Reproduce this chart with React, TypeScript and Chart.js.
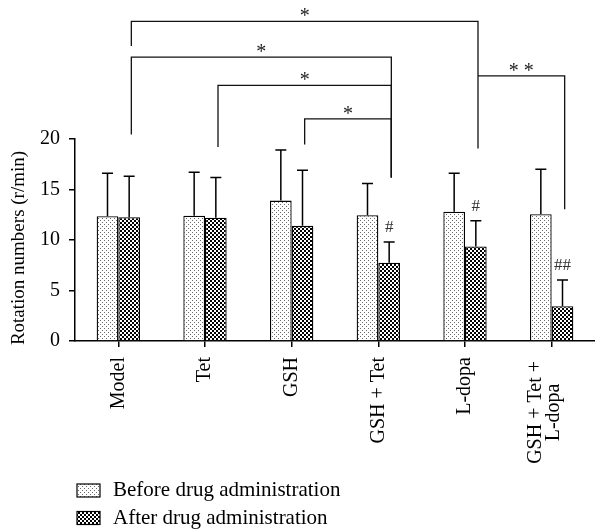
import React, { useEffect, useRef } from 'react';
import { Chart, registerables } from 'chart.js';

Chart.register(...registerables);

const categories: string[][] = [['Model'], ['Tet'], ['GSH'], ['GSH + Tet'], ['L-dopa'], ['GSH + Tet +', 'L-dopa']];
const seriesNames = ['Before drug administration', 'After drug administration'];
const beforeValues = [12.35, 12.4, 13.9, 12.45, 12.8, 12.55];
const beforeErrors = [4.25, 4.3, 5.0, 3.15, 3.8, 4.45];
const afterValues = [12.25, 12.2, 11.4, 7.75, 9.35, 3.45];
const afterErrors = [4.05, 4.0, 5.5, 2.05, 2.55, 2.6];
const afterMarks = ['', '', '', '#', '#', '##'];
const yTicks = [0, 5, 10, 15, 20];
const yTitle = 'Rotation numbers (r/min)';

// significance brackets (category indices and heights in data units)
const bracketFrom = [0, 0, 1, 2, 4];
const bracketTo = [4, 3, 3, 3, 5];
const bracketLevel = [31.65, 28.1, 25.3, 22.0, 26.25];
const bracketLeftEnd = [29.2, 20.45, 19.2, 19.45, 26.25];
const bracketRightEnd = [19.05, 16.2, 16.2, 16.2, 13.05];
const bracketLabels = ['*', '*', '*', '*', '* *'];

const FONT = '"Liberation Serif", "Times New Roman", serif';

function makeBeforePattern(): CanvasPattern | string {
  const c = document.createElement('canvas');
  c.width = 4; c.height = 4;
  const g = c.getContext('2d');
  if (!g) return '#ddd';
  g.fillStyle = '#fff'; g.fillRect(0, 0, 4, 4);
  g.fillStyle = '#6a6a6a';
  g.fillRect(0, 0, 1, 1); g.fillRect(2, 2, 1, 1);
  return g.createPattern(c, 'repeat') || '#ddd';
}

function makeAfterPattern(): CanvasPattern | string {
  const c = document.createElement('canvas');
  c.width = 4; c.height = 4;
  const g = c.getContext('2d');
  if (!g) return '#333';
  g.fillStyle = '#000'; g.fillRect(0, 0, 4, 4);
  g.fillStyle = '#fff';
  g.fillRect(0, 0, 2, 2); g.fillRect(2, 2, 2, 2);
  return g.createPattern(c, 'repeat') || '#333';
}

export default function App() {
  const ref = useRef<HTMLCanvasElement | null>(null);

  useEffect(() => {
    if (!ref.current) return;
    const beforeFill = makeBeforePattern();
    const afterFill = makeAfterPattern();
    const errs = [beforeErrors, afterErrors];

    const errorBarPlugin = {
      id: 'errorBars',
      afterDatasetsDraw(chart: any) {
        const ctx = chart.ctx;
        const y = chart.scales.y;
        chart.data.datasets.forEach((ds: any, di: number) => {
          const meta = chart.getDatasetMeta(di);
          meta.data.forEach((bar: any, i: number) => {
            const v = ds.data[i];
            const top = y.getPixelForValue(v + errs[di][i]);
            ctx.save();
            ctx.strokeStyle = '#000';
            ctx.lineWidth = 1.5;
            ctx.beginPath();
            ctx.moveTo(bar.x, bar.y);
            ctx.lineTo(bar.x, top);
            ctx.moveTo(bar.x - 5.5, top);
            ctx.lineTo(bar.x + 5.5, top);
            ctx.stroke();
            if (di === 1 && afterMarks[i]) {
              ctx.fillStyle = '#333';
              ctx.font = `17px ${FONT}`;
              ctx.textAlign = 'center';
              ctx.textBaseline = 'middle';
              ctx.fillText(afterMarks[i], bar.x, y.getPixelForValue(v + errs[di][i] + 1.4));
            }
            ctx.restore();
          });
        });
      },
    };

    const decorPlugin = {
      id: 'decor',
      afterDraw(chart: any) {
        const ctx = chart.ctx;
        const x = chart.scales.x;
        const y = chart.scales.y;
        const cat = x.getPixelForValue(1) - x.getPixelForValue(0);
        const legX = (i: number) => x.getPixelForValue(i) + cat * 0.15;

        // brackets
        ctx.save();
        ctx.strokeStyle = '#111';
        ctx.lineWidth = 1.3;
        ctx.fillStyle = '#222';
        bracketFrom.forEach((f, k) => {
          const x1 = legX(f);
          const x2 = legX(bracketTo[k]);
          const yl = y.getPixelForValue(bracketLevel[k]);
          ctx.beginPath();
          ctx.moveTo(x1, y.getPixelForValue(bracketLeftEnd[k]));
          ctx.lineTo(x1, yl);
          ctx.lineTo(x2, yl);
          ctx.lineTo(x2, y.getPixelForValue(bracketRightEnd[k]));
          ctx.stroke();
          ctx.font = `20px ${FONT}`;
          ctx.textAlign = 'center';
          ctx.textBaseline = 'alphabetic';
          ctx.fillText(bracketLabels[k], (x1 + x2) / 2, yl + 1);
        });
        ctx.restore();

        // x labels
        ctx.save();
        ctx.fillStyle = '#000';
        ctx.font = `20px ${FONT}`;
        ctx.textBaseline = 'middle';
        categories.forEach((lines, i) => {
          const cx = x.getPixelForValue(i);
          const n = lines.length;
          if (n === 1) {
            ctx.save();
            ctx.translate(cx, x.top + 16);
            ctx.rotate(-Math.PI / 2);
            ctx.textAlign = 'right';
            ctx.fillText(lines[0], 0, 0);
            ctx.restore();
          } else {
            const w = Math.max(...lines.map((l) => ctx.measureText(l).width));
            lines.forEach((l, j) => {
              ctx.save();
              ctx.translate(cx - (n - 1) * 16 + j * 18, x.top + 20 + w / 2);
              ctx.rotate(-Math.PI / 2);
              ctx.textAlign = 'center';
              ctx.fillText(l, 0, 0);
              ctx.restore();
            });
          }
        });
        ctx.restore();

        // y title
        ctx.save();
        ctx.fillStyle = '#000';
        ctx.font = `19px ${FONT}`;
        ctx.translate(19, 248);
        ctx.rotate(-Math.PI / 2);
        ctx.textAlign = 'center';
        ctx.textBaseline = 'middle';
        ctx.fillText(yTitle, 0, 0);
        ctx.restore();

        // legend
        ctx.save();
        const fills = [beforeFill, afterFill];
        const rows = [490.5, 518];
        seriesNames.forEach((name, i) => {
          ctx.fillStyle = fills[i] as any;
          ctx.fillRect(77, rows[i] - 6.5, 23, 13);
          ctx.strokeStyle = '#000';
          ctx.lineWidth = 1.2;
          ctx.strokeRect(77, rows[i] - 6.5, 23, 13);
          ctx.fillStyle = '#000';
          ctx.font = `21px ${FONT}`;
          ctx.textAlign = 'left';
          ctx.textBaseline = 'middle';
          ctx.fillText(name, 113, rows[i]);
        });
        ctx.restore();
      },
    };

    const chart = new Chart(ref.current, {
      type: 'bar',
      data: {
        labels: categories.map((c) => c.join(' ')),
        datasets: [
          { label: seriesNames[0], data: beforeValues, backgroundColor: beforeFill as any, borderColor: '#000', borderWidth: 1.3, categoryPercentage: 0.5, barPercentage: 1.0 },
          { label: seriesNames[1], data: afterValues, backgroundColor: afterFill as any, borderColor: '#000', borderWidth: 1.3, categoryPercentage: 0.5, barPercentage: 1.0 },
        ],
      },
      options: {
        animation: false,
        responsive: true,
        maintainAspectRatio: false,
        layout: { padding: { top: 139, left: 0, right: 0, bottom: 0 } },
        plugins: { legend: { display: false }, tooltip: { enabled: false } },
        scales: {
          x: {
            grid: { offset: false, drawOnChartArea: false, tickLength: 6, color: '#000', lineWidth: 1.5 },
            border: { display: true, color: '#000', width: 1.5 },
            ticks: { display: false },
            afterFit: (s: any) => { s.height = 190; },
          },
          y: {
            min: 0,
            max: 20,
            afterBuildTicks: (s: any) => { s.ticks = yTicks.map((v) => ({ value: v })); },
            grid: { drawOnChartArea: false, tickLength: 6, color: '#000', lineWidth: 1.5 },
            border: { display: true, color: '#000', width: 1.5 },
            ticks: { padding: 9, color: '#000', font: { family: FONT, size: 20 } },
            afterFit: (s: any) => { s.width = 75; },
          },
        },
      },
      plugins: [errorBarPlugin, decorPlugin],
    });
    return () => chart.destroy();
  }, []);

  return (
    <div style={{ position: 'absolute', left: 0, top: 0, width: 595, height: 531, background: '#fff' }}>
      <canvas ref={ref} />
    </div>
  );
}
